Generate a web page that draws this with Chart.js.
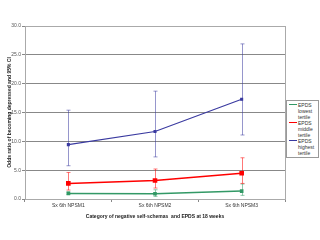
<!DOCTYPE html>
<html>
<head>
<meta charset="utf-8">
<script src="https://cdn.jsdelivr.net/npm/chart.js@4/dist/chart.umd.min.js"></script>
<style>
  html, body { margin: 0; padding: 0; background: #fff; }
  #wrap { position: relative; width: 320px; height: 240px; }
  #legend {
    position: absolute; left: 286px; top: 100px; width: 31px; height: 56px;
    border: 1px solid #999; background: #fff;
    font-family: "Liberation Sans", Arial, sans-serif; font-size: 5px; color: #333;
  }
  .item { position: absolute; left: 0; width: 31px; }
  .item .sw { position: absolute; left: 2px; top: 2px; width: 8px; height: 1px; }
  .item .tx { position: absolute; left: 11px; top: 0; line-height: 6px; }
</style>
</head>
<body>
<div id="wrap">
  <canvas id="c" width="320" height="240"></canvas>
  <div id="legend"></div>
</div>
<script>
const categories = ["Sx 6th NPSM1", "Sx 6th NPSM2", "Sx 6th NPSM3"];
const yTicks = [0, 5, 10, 15, 20, 25, 30];

const seriesNames = [["EPDS", "lowest", "tertile"], ["EPDS", "middle", "tertile"], ["EPDS", "highest", "tertile"]];
const seriesColors = ["#339966", "#ff0000", "#3a3aa0"];

const lowest = [0.97, 0.9, 1.37];
const lowestLo = [0.8, 0.45, 0.63];
const lowestHi = [1.2, 1.6, 2.6];

const middle = [2.7, 3.2, 4.46];
const middleLo = [1.55, 1.9, 2.7];
const middleHi = [4.6, 5.2, 7.15];

const highest = [9.43, 11.7, 17.3];
const highestLo = [5.77, 7.3, 11.1];
const highestHi = [15.4, 18.7, 26.9];

const font = { family: "'Liberation Sans', Arial, sans-serif", size: 5 };

const errorBars = {
  id: "errorBars",
  afterDatasetsDraw(chart) {
    const ctx = chart.ctx;
    const xs = chart.scales.x, ys = chart.scales.y;
    chart.data.datasets.forEach(ds => {
      ctx.save();
      ctx.strokeStyle = ds.barColor;
      ctx.lineWidth = 1;
      ds.data.forEach((v, i) => {
        const x = Math.round(xs.getPixelForValue(i)) + 0.5;
        const y1 = ys.getPixelForValue(ds.lo[i]);
        const y2 = ys.getPixelForValue(ds.hi[i]);
        ctx.beginPath();
        ctx.moveTo(x, y1); ctx.lineTo(x, y2);
        ctx.moveTo(x - 2, y1); ctx.lineTo(x + 2, y1);
        ctx.moveTo(x - 2, y2); ctx.lineTo(x + 2, y2);
        ctx.stroke();
      });
      ctx.restore();
    });
  }
};

const frame = {
  id: "frame",
  beforeDatasetsDraw(chart) {
    const a = chart.chartArea, ctx = chart.ctx;
    ctx.save();
    ctx.strokeStyle = "#aaa";
    ctx.lineWidth = 1;
    ctx.strokeRect(Math.round(a.left) + 0.5, Math.round(a.top) + 0.5,
      Math.round(a.right - a.left), Math.round(a.bottom - a.top));
    ctx.restore();
  }
};

function makeSet(label, color, data, lo, hi, style, r, width) {
  return {
    label: label.join(" "),
    data: data, lo: lo, hi: hi,
    borderColor: color, backgroundColor: color,
    barColor: color + "88",
    borderWidth: width,
    pointStyle: style, pointRadius: r,
    fill: false, tension: 0
  };
}

new Chart(document.getElementById("c"), {
  type: "line",
  data: {
    labels: categories,
    datasets: [
      makeSet(seriesNames[0], seriesColors[0], lowest, lowestLo, lowestHi, "rect", 1.5, 1.5),
      makeSet(seriesNames[1], seriesColors[1], middle, middleLo, middleHi, "rect", 2.2, 1.5),
      makeSet(seriesNames[2], seriesColors[2], highest, highestLo, highestHi, "rect", 1.3, 1.2)
    ]
  },
  options: {
    responsive: false,
    animation: false,
    layout: { padding: { left: 0, right: 35, top: 26, bottom: 20 } },
    plugins: { legend: { display: false }, tooltip: { enabled: false } },
    scales: {
      x: {
        offset: true,
        grid: { offset: true, drawOnChartArea: false, color: "#888", tickLength: 3 },
        border: { color: "#888" },
        ticks: { font: font, color: "#333", padding: 1, maxRotation: 0 },
        title: { display: true, text: "Category of negative self-schemas  and EPDS at 18 weeks",
          font: { family: font.family, size: 5, weight: "bold" }, color: "#222", padding: { top: 5, bottom: 0 } },
        afterFit(s) { s.height = 21; }
      },
      y: {
        min: 0, max: 30,
        afterBuildTicks(s) { s.ticks = yTicks.map(v => ({ value: v })); },
        grid: { color: "#888", tickLength: 3 },
        border: { color: "#888" },
        ticks: { font: font, color: "#555", padding: 1, callback: v => v.toFixed(1) },
        title: { display: true, text: "Odds ratio of becoming depressed and 95% CI",
          font: { family: font.family, size: 5, weight: "bold" }, color: "#222", padding: { top: 7, bottom: 0 } },
        afterFit(s) { s.width = 25; }
      }
    }
  },
  plugins: [frame, errorBars]
});

const legend = document.getElementById("legend");
[0, 1, 2].forEach(i => {
  const it = document.createElement("div");
  it.className = "item";
  it.style.top = (1 + i * 18) + "px";
  it.innerHTML = '<div class="sw" style="background:' + seriesColors[i] + '"></div>' +
    '<div class="tx">' + seriesNames[i].join("<br>") + '</div>';
  legend.appendChild(it);
});
</script>
</body>
</html>
